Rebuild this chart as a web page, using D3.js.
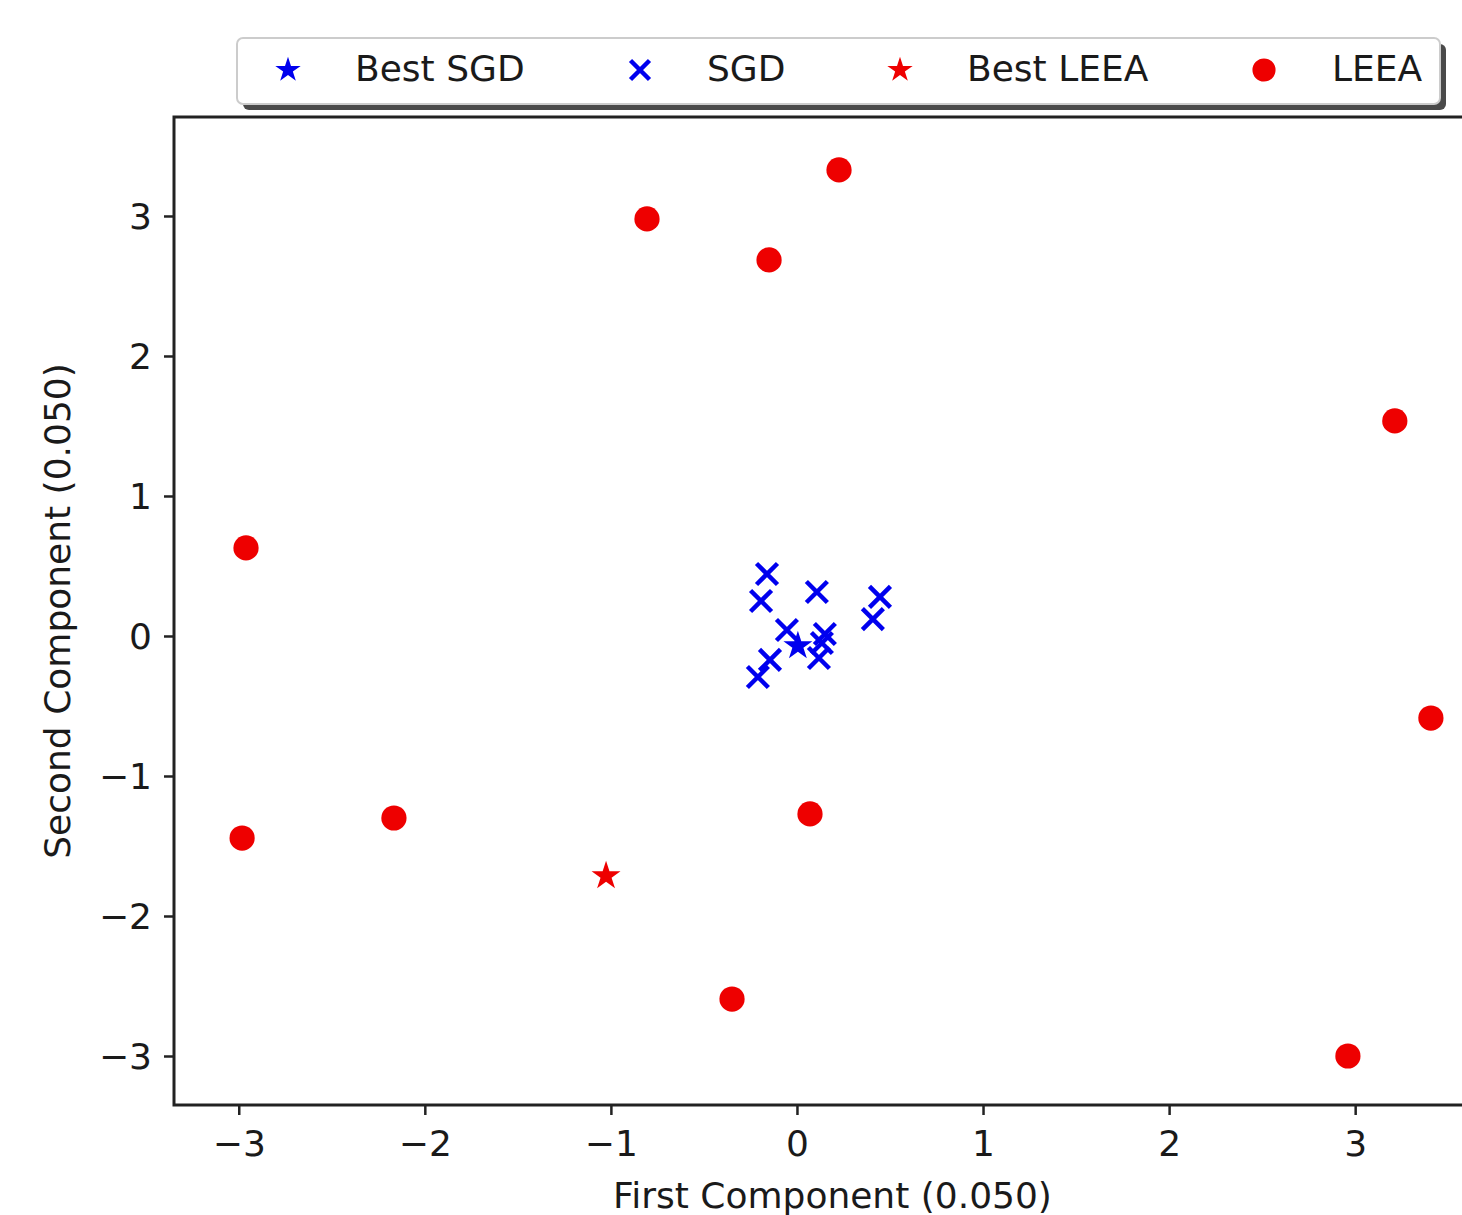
<!DOCTYPE html>
<html>
<head>
<meta charset="utf-8">
<script src="https://cdn.jsdelivr.net/npm/d3@7"></script>
<style>
  body { margin: 0; background: #fff; }
  svg { display: block; font-family: "DejaVu Sans", sans-serif; }
</style>
</head>
<body>
<div id="chart"></div>
<script>
// values
const leeaX = [0.226, -0.806, -0.150, 3.213, -2.961, 3.407, -2.166, 0.070, -2.982, -0.349, 2.961];
const leeaY = [3.329, 2.979, 2.686, 1.536, 0.629, -0.586, -1.300, -1.271, -1.443, -2.593, -3.000];
const bestLeeaX = [-1.026];
const bestLeeaY = [-1.714];
const sgdX = [-0.161, -0.193, 0.107, 0.446, 0.408, -0.054, 0.150, 0.134, 0.118, -0.145, -0.210];
const sgdY = [0.443, 0.250, 0.314, 0.279, 0.121, 0.043, 0.014, -0.050, -0.157, -0.171, -0.293];
const bestSgdX = [0.005];
const bestSgdY = [-0.071];
const xTicks = [-3, -2, -1, 0, 1, 2, 3];
const yTicks = [-3, -2, -1, 0, 1, 2, 3];
const legendLabels = ["Best SGD", "SGD", "Best LEEA", "LEEA"];

const W = 1462, H = 1215;
let margin = { top: 117, left: 174 },
  width = 1317,
  height = 988;

let svg = d3.select("#chart").append("svg")
  .attr("width", W)
  .attr("height", H);

let x = d3.scaleLinear().domain([-3.348, 3.73]).range([0, width]);
let y = d3.scaleLinear().domain([-3.35, 3.707]).range([height, 0]);

let g = svg.append("g")
  .attr("transform", "translate(" + margin.left + "," + margin.top + ")");

// cross path, half-width r
function crossPath(r) {
  return "M" + (-r) + "," + (-r) + "L" + r + "," + r + "M" + (-r) + "," + r + "L" + r + "," + (-r);
}
let star = d3.symbol().type(d3.symbolStar);
let circle = d3.symbol().type(d3.symbolCircle);

// axes
let xAxis = g.append("g")
  .attr("transform", "translate(0," + height + ")")
  .call(d3.axisBottom(x).tickValues(xTicks).tickSizeOuter(0).tickSize(10).tickPadding(15).tickFormat(d3.format("d")));
let yAxis = g.append("g")
  .call(d3.axisLeft(y).tickValues(yTicks).tickSizeOuter(0).tickSize(10).tickPadding(12).tickFormat(d3.format("d")));

[xAxis, yAxis].forEach(a => {
  a.select(".domain").remove();
  a.selectAll(".tick line").attr("stroke", "#222").attr("stroke-width", 2.5);
  a.selectAll(".tick text")
    .attr("font-size", "36px")
    .attr("font-family", "DejaVu Sans")
    .attr("fill", "#1a1a1a");
});
yAxis.selectAll(".tick text").attr("dy", "0.36em");

// frame
g.append("rect")
  .attr("x", 0).attr("y", 0)
  .attr("width", width).attr("height", height)
  .attr("fill", "none")
  .attr("stroke", "#222")
  .attr("stroke-width", 3);

// points
let pts = g.append("g");
pts.selectAll(".leea")
  .data(leeaX.map((v, i) => [v, leeaY[i]]))
  .enter().append("path")
  .attr("class", "leea")
  .attr("d", circle.size(500))
  .attr("transform", d => "translate(" + x(d[0]) + "," + y(d[1]) + ")")
  .attr("fill", "#ee0000");

pts.selectAll(".bestleea")
  .data(bestLeeaX.map((v, i) => [v, bestLeeaY[i]]))
  .enter().append("path")
  .attr("d", star.size(260))
  .attr("transform", d => "translate(" + x(d[0]) + "," + y(d[1]) + ")")
  .attr("fill", "#ee0000");

pts.selectAll(".sgd")
  .data(sgdX.map((v, i) => [v, sgdY[i]]))
  .enter().append("path")
  .attr("d", crossPath(10.5))
  .attr("transform", d => "translate(" + x(d[0]) + "," + y(d[1]) + ")")
  .attr("fill", "none")
  .attr("stroke", "#0000ee")
  .attr("stroke-width", 4.5);

pts.selectAll(".bestsgd")
  .data(bestSgdX.map((v, i) => [v, bestSgdY[i]]))
  .enter().append("path")
  .attr("d", star.size(260))
  .attr("transform", d => "translate(" + x(d[0]) + "," + y(d[1]) + ")")
  .attr("fill", "#0000ee");

// axis titles
g.append("text")
  .attr("x", width / 2)
  .attr("y", height + 103)
  .attr("text-anchor", "middle")
  .attr("font-size", "36px")
  .attr("fill", "#1a1a1a")
  .text("First Component (0.050)");

g.append("text")
  .attr("transform", "rotate(-90)")
  .attr("x", -height / 2)
  .attr("y", -104)
  .attr("text-anchor", "middle")
  .attr("font-size", "36px")
  .attr("fill", "#1a1a1a")
  .text("Second Component (0.050)");

// legend
let leg = svg.append("g");
leg.append("rect")
  .attr("x", 243).attr("y", 44)
  .attr("width", 1203).attr("height", 66)
  .attr("rx", 6)
  .attr("fill", "#4a4a4a");
leg.append("rect")
  .attr("x", 237).attr("y", 38)
  .attr("width", 1203).attr("height", 66)
  .attr("rx", 6)
  .attr("fill", "#fff")
  .attr("stroke", "#cccccc")
  .attr("stroke-width", 2);

let legX = [288, 640, 900, 1264];
let textX = [355, 707, 967, 1332];
let legColor = ["#0000ee", "#0000ee", "#ee0000", "#ee0000"];
legendLabels.forEach((lab, i) => {
  let m = leg.append("path")
    .attr("transform", "translate(" + legX[i] + ",70)");
  if (i === 1) {
    m.attr("d", crossPath(9.5)).attr("fill", "none").attr("stroke", legColor[i]).attr("stroke-width", 4.5);
  } else if (i === 3) {
    m.attr("d", circle.size(420)).attr("fill", legColor[i]);
  } else {
    m.attr("d", star.size(200)).attr("fill", legColor[i]);
  }
  leg.append("text")
    .attr("x", textX[i])
    .attr("y", 81)
    .attr("font-size", "36px")
    .attr("fill", "#1a1a1a")
    .text(lab);
});
</script>
</body>
</html>
